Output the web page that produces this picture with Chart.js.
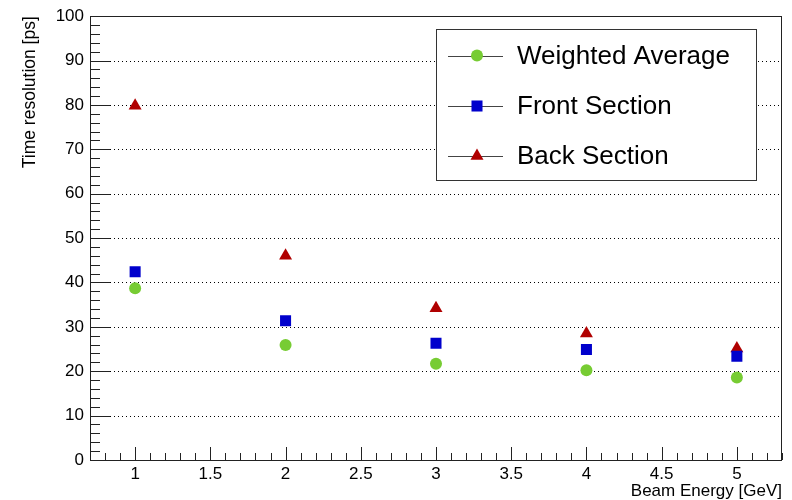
<!DOCTYPE html>
<html>
<head>
<meta charset="utf-8">
<script src="https://cdn.jsdelivr.net/npm/chart.js@4/dist/chart.umd.min.js"></script>
<style>
  html, body { margin: 0; padding: 0; background: #fff; }
  #wrap { width: 792px; height: 500px; }
</style>
</head>
<body>
<div id="wrap"><canvas id="myChart" width="792" height="500"></canvas></div>
<script>
// values
var energy   = [1, 2, 3, 4, 5];
var weighted = [38.7, 25.9, 21.7, 20.2, 18.6];
var front    = [42.4, 31.4, 26.3, 24.9, 23.4];
var back     = [79.8, 46.0, 34.2, 28.5, 25.1];

var xTickLabels = [1, 1.5, 2, 2.5, 3, 3.5, 4, 4.5, 5];
var yTickLabels = [0, 10, 20, 30, 40, 50, 60, 70, 80, 90, 100];

var FONT = "'Liberation Sans', Arial, Helvetica, sans-serif";

function toPoints(ys) {
    return energy.map(function (e, i) { return { x: e, y: ys[i] }; });
}

// ROOT style frame: dotted y grid, frame box, inward ticks
var framePlugin = {
    id: 'frame',
    beforeDatasetsDraw: function (chart) {
        var ctx = chart.ctx;
        var a = chart.chartArea;
        var xs = chart.scales.x, ys = chart.scales.y;
        ctx.save();

        // dotted grid
        ctx.strokeStyle = '#000';
        ctx.lineWidth = 1;
        ctx.setLineDash([1, 3]);
        yTickLabels.forEach(function (v) {
            if (v === ys.min || v === ys.max) return;
            var py = Math.round(ys.getPixelForValue(v)) + 0.5;
            ctx.beginPath();
            ctx.moveTo(a.left, py);
            ctx.lineTo(a.right, py);
            ctx.stroke();
        });
        ctx.setLineDash([]);

        // ticks
        ctx.strokeStyle = '#222';
        ctx.beginPath();
        for (var t = 0; t <= 100; t += 2) {
            var py = Math.round(ys.getPixelForValue(t)) + 0.5;
            var len = (t % 10 === 0) ? 20 : 10;
            ctx.moveTo(a.left, py);
            ctx.lineTo(a.left + len, py);
        }
        for (var k = 7; k <= 53; k++) {
            var px = Math.round(xs.getPixelForValue(k / 10)) + 0.5;
            var l2 = (k % 5 === 0) ? 13 : 7;
            ctx.moveTo(px, a.bottom);
            ctx.lineTo(px, a.bottom - l2);
        }
        ctx.stroke();

        // frame box
        ctx.strokeStyle = '#222';
        ctx.lineWidth = 1;
        ctx.strokeRect(Math.round(a.left) + 0.5, Math.round(a.top) + 0.5,
                       Math.round(a.right - a.left) - 1, Math.round(a.bottom - a.top));
        ctx.restore();
    }
};

var legendPlugin = {
    id: 'rootLegend',
    afterDraw: function (chart) {
        var ctx = chart.ctx;
        ctx.save();
        ctx.fillStyle = '#fff';
        ctx.fillRect(436, 29, 320, 151);
        ctx.strokeStyle = '#333';
        ctx.lineWidth = 1;
        ctx.strokeRect(436.5, 29.5, 320, 151);

        var rows = [55.5, 106, 156];
        chart.data.datasets.forEach(function (ds, i) {
            var y = rows[i];
            ctx.strokeStyle = '#444';
            ctx.lineWidth = 1;
            ctx.beginPath();
            ctx.moveTo(448, Math.round(y) + 0.5);
            ctx.lineTo(503, Math.round(y) + 0.5);
            ctx.stroke();
            ctx.fillStyle = ds.backgroundColor;
            ctx.strokeStyle = ds.backgroundColor;
            Chart.helpers.drawPoint(ctx, {
                pointStyle: ds.pointStyle,
                radius: ds.pointRadius,
                borderWidth: 0,
                rotation: 0
            }, 477, y);
            ctx.fillStyle = '#000';
            ctx.font = '26px ' + FONT;
            ctx.textBaseline = 'middle';
            ctx.textAlign = 'left';
            ctx.fillText(ds.label, 517, y + 1);
        });
        ctx.restore();
    }
};

var ctx = document.getElementById('myChart').getContext('2d');
var chart = new Chart(ctx, {
    type: 'scatter',
    data: {
        datasets: [{
            label: 'Weighted Average',
            data: toPoints(weighted),
            pointStyle: 'circle',
            pointRadius: 6,
            backgroundColor: '#77cc33',
            borderColor: '#77cc33',
            borderWidth: 0
        }, {
            label: 'Front Section',
            data: toPoints(front),
            pointStyle: 'rect',
            pointRadius: 7.8,
            backgroundColor: '#0000cc',
            borderColor: '#0000cc',
            borderWidth: 0
        }, {
            label: 'Back Section',
            data: toPoints(back),
            pointStyle: 'triangle',
            pointRadius: 7.5,
            backgroundColor: '#b00000',
            borderColor: '#b00000',
            borderWidth: 0
        }]
    },
    options: {
        responsive: false,
        animation: false,
        layout: { padding: { left: 0, right: 10, top: 12, bottom: 0 } },
        plugins: {
            legend: { display: false },
            tooltip: { enabled: false }
        },
        scales: {
            x: {
                type: 'linear',
                min: 0.7,
                max: 5.3,
                afterBuildTicks: function (s) {
                    s.ticks = xTickLabels.map(function (v) { return { value: v }; });
                },
                afterFit: function (s) { s.height = 40; },
                grid: { display: false, drawTicks: false },
                border: { display: false },
                ticks: {
                    autoSkip: false,
                    maxRotation: 0,
                    padding: 4,
                    color: '#000',
                    font: { family: FONT, size: 17 },
                    callback: function (v) { return String(v); }
                },
                title: {
                    display: true,
                    text: 'Beam Energy [GeV]',
                    align: 'end',
                    color: '#000',
                    font: { family: FONT, size: 17, lineHeight: 1 },
                    padding: { top: 0, bottom: 0 }
                }
            },
            y: {
                type: 'linear',
                min: 0,
                max: 100,
                afterBuildTicks: function (s) {
                    s.ticks = yTickLabels.map(function (v) { return { value: v }; });
                },
                afterFit: function (s) { s.width = 90; },
                grid: { display: false, drawTicks: false },
                border: { display: false },
                ticks: {
                    padding: 6,
                    color: '#000',
                    font: { family: FONT, size: 17 }
                },
                title: {
                    display: true,
                    text: 'Time resolution [ps]',
                    align: 'end',
                    color: '#000',
                    font: { family: FONT, size: 17.5, lineHeight: 1 },
                    padding: { top: 21, bottom: 0 }
                }
            }
        }
    },
    plugins: [framePlugin, legendPlugin]
});
</script>
</body>
</html>
